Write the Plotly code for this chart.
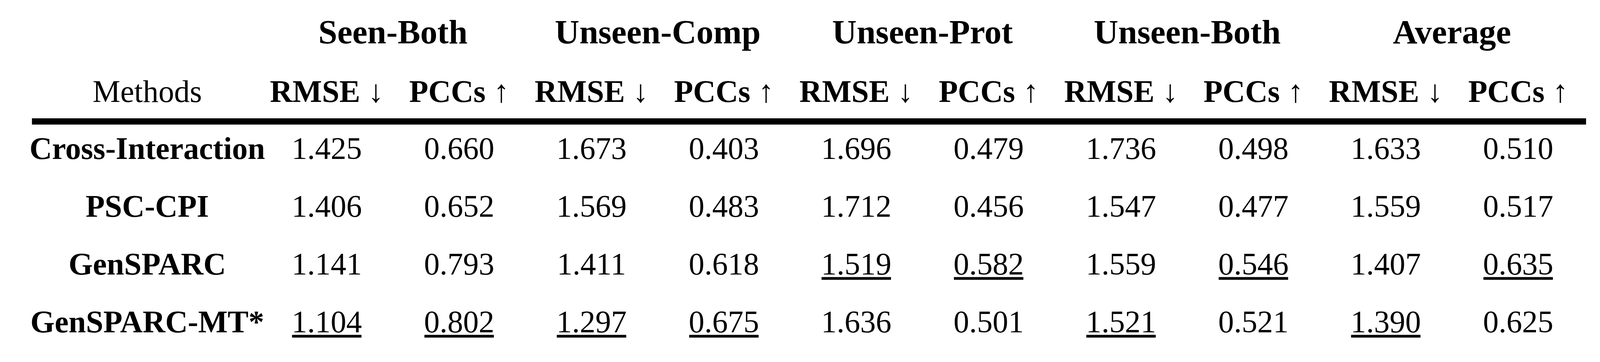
import plotly.graph_objects as go

# table content
groups = ["Seen-Both", "Unseen-Comp", "Unseen-Prot", "Unseen-Both", "Average"]
metrics = ["RMSE", "PCCs"]
arrows = ["↓", "↑"]
methods = ["Cross-Interaction", "PSC-CPI", "GenSPARC", "GenSPARC-MT*"]

# each row: RMSE, PCCs for Seen-Both, Unseen-Comp, Unseen-Prot, Unseen-Both, Average
cross_interaction = [1.425, 0.660, 1.673, 0.403, 1.696, 0.479, 1.736, 0.498, 1.633, 0.510]
psc_cpi = [1.406, 0.652, 1.569, 0.483, 1.712, 0.456, 1.547, 0.477, 1.559, 0.517]
gensparc = [1.141, 0.793, 1.411, 0.618, 1.519, 0.582, 1.559, 0.546, 1.407, 0.635]
gensparc_mt = [1.104, 0.802, 1.297, 0.675, 1.636, 0.501, 1.521, 0.521, 1.390, 0.625]
values = [cross_interaction, psc_cpi, gensparc, gensparc_mt]

# underlined (second best) cells, by column index
underlined = [[], [], [4, 5, 7, 9], [0, 1, 2, 3, 6, 8]]

# axes are in pixels of the 5161x927 reference; the figure fills the window
W, H = 5161, 927
FONT = "Liberation Serif"
fs = 80        # body font size
fs_head = 87   # group header font size

method_x = 475
col_x = [1054 + 427 * i for i in range(10)]
group_x = [(col_x[2 * i] + col_x[2 * i + 1]) / 2 for i in range(len(groups))]
row_base = [407 + 148 * i for i in range(len(methods))]
head1_base = 111
head2_base = 261


def y_of(baseline, size):
    # scatter text 'middle center' puts the baseline about a quarter em below y
    return baseline - 0.25 * size


fig = go.Figure()

# group headers
fig.add_trace(go.Scatter(
    x=group_x,
    y=[y_of(head1_base, fs_head)] * len(groups),
    mode='text',
    text=[f"<b>{g}</b>" for g in groups],
    textposition='middle center',
    textfont=dict(family=FONT, size=fs_head, color='black'),
    hoverinfo='skip'
))

# second header row
fig.add_trace(go.Scatter(
    x=[method_x] + col_x,
    y=[y_of(head2_base, fs)] * (len(col_x) + 1),
    mode='text',
    text=["Methods"] + [f"<b>{metrics[i % 2]}</b> {arrows[i % 2]}" for i in range(len(col_x))],
    textposition='middle center',
    textfont=dict(family=FONT, size=fs, color='black'),
    hoverinfo='skip'
))

# method names
fig.add_trace(go.Scatter(
    x=[method_x] * len(methods),
    y=[y_of(b, fs) for b in row_base],
    mode='text',
    text=[f"<b>{m}</b>" for m in methods],
    textposition='middle center',
    textfont=dict(family=FONT, size=fs, color='black'),
    hoverinfo='skip'
))

# numbers
for r, row in enumerate(values):
    fig.add_trace(go.Scatter(
        x=col_x,
        y=[y_of(row_base[r], fs)] * len(row),
        mode='text',
        text=[f"{v:.3f}" for v in row],
        textposition='middle center',
        textfont=dict(family=FONT, size=fs, color='black'),
        hoverinfo='skip'
    ))

# underlines for second-best values
ux, uy = [], []
for r, cols in enumerate(underlined):
    for c in cols:
        ux += [col_x[c] - 112, col_x[c] + 112, None]
        uy += [row_base[r] + 10, row_base[r] + 10, None]
fig.add_trace(go.Scatter(
    x=ux, y=uy,
    mode='lines',
    line=dict(color='black', width=7),
    hoverinfo='skip'
))

# thick rule under the header
fig.add_shape(type='line', x0=103, x1=5116, y0=311, y1=311,
              line=dict(color='black', width=16))

fig.update_layout(
    autosize=True,
    margin=dict(l=0, r=0, t=0, b=0),
    paper_bgcolor='white',
    plot_bgcolor='white',
    showlegend=False,
    xaxis=dict(range=[0, W], visible=False, fixedrange=True),
    yaxis=dict(range=[H, 0], visible=False, fixedrange=True),
)

fig.write_html("out.html", config={'displayModeBar': False},
               default_width='100vw', default_height='100vh',
               post_script="document.body.style.margin='0';")
